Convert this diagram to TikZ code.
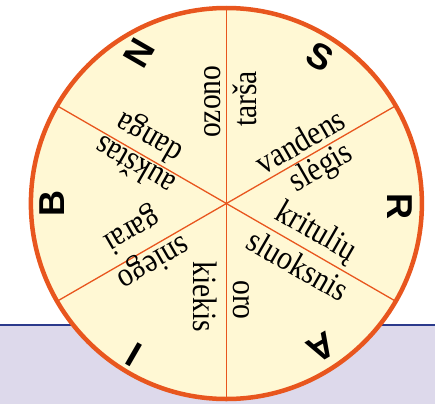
\documentclass[tikz,border=0pt]{standalone}
\usepackage{fontspec}
\setmainfont{Liberation Serif}
\newfontfamily\wordfont[FakeStretch=0.87]{Liberation Serif}
\newfontfamily\bigsans{Liberation Sans}
\definecolor{wheelfill}{HTML}{FFF8D4}
\definecolor{wheelline}{HTML}{E8561E}
\definecolor{bandfill}{HTML}{DDD9EB}
\definecolor{bandline}{HTML}{2B3A8C}
\tikzset{
  word/.style={inner sep=0pt, font=\wordfont\fontsize{34}{34}\selectfont},
  letter/.style={inner sep=0pt, font=\bigsans\bfseries\fontsize{36}{36}\selectfont},
  spoke/.style={draw=wheelline, line width=1.3pt},
}
\begin{document}
\begin{tikzpicture}[x=1pt,y=1pt]
\useasboundingbox (0,0) rectangle (435,-404);
% band
\fill[bandfill] (0,-325) rectangle (435,-404);
\draw[bandline, line width=1.2pt] (0,-325) -- (435,-325);
% wheel
\coordinate (c) at (226.4,-203.5);
\fill[wheelfill] (c) circle (195.5);
\draw[spoke] (c) -- ++(90:195.5);
\draw[spoke] (c) -- ++(270:195.5);
\draw[spoke] (c) -- ++(30:195.5);
\draw[spoke] (c) -- ++(150:195.5);
\draw[spoke] (c) -- ++(210:195.5);
\draw[spoke] (c) -- ++(330:195.5);
\draw[wheelline, line width=4.5pt] (c) circle (195.5);
% words
\node[word, rotate=90] (ozono) at (212.5,-101.7) {ozono};
\node[word, rotate=90] (tarsa) at (245,-99) {tarša};
\node[word, rotate=30] (vandens) at (300,-141) {vandens};
\node[word, rotate=30] (slegis) at (321.7,-168.3) {slėgis};
\node[word, rotate=-30] (krituliu) at (315.8,-232.5) {kritulių};
\node[word, rotate=-30] (sluoksnis) at (298.3,-265) {sluoksnis};
\node[word, rotate=-90] (oro) at (241.7,-300) {oro};
\node[word, rotate=-90] (kiekis) at (205,-296.7) {kiekis};
\node[word, rotate=210] (sniego) at (152.5,-261.7) {sniego};
\node[word, rotate=210] (garai) at (131.7,-229) {garai};
\node[word, rotate=150] (danga) at (150,-136.7) {danga};
\node[word, rotate=150] (aukstas) at (134,-166.7) {aukštas};
% letters
\node[letter, rotate=-30] (S) at (320,-56.7) {S};
\node[letter, rotate=-90] (R) at (400,-206) {R};
\node[letter, rotate=210] (A) at (321,-347.5) {A};
\node[letter, rotate=150] (I) at (134,-355) {I};
\node[letter, rotate=90] (B) at (51.7,-203) {B};
\node[letter, rotate=60] (N) at (139,-53) {N};
\end{tikzpicture}
\end{document}
